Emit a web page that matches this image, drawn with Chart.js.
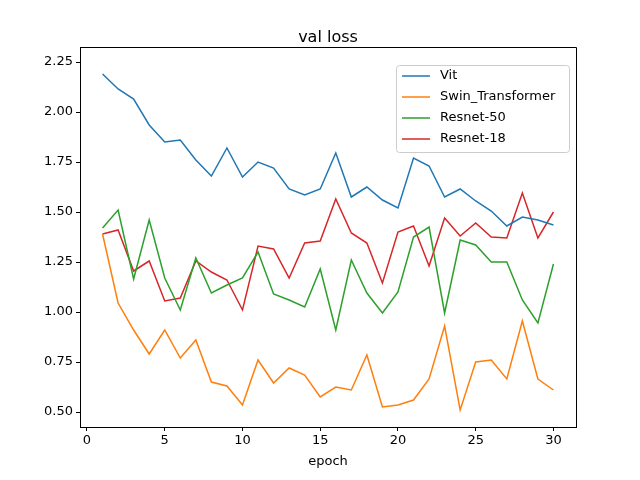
<!DOCTYPE html>
<html lang="en">
<head>
<meta charset="UTF-8">
<title>val loss</title>
<script src="https://cdn.jsdelivr.net/npm/chart.js"></script>
<style>body{margin:0;background:#fff}canvas{display:block}</style>
</head>
<body>
<canvas id="c" width="640" height="480"></canvas>
<script>
const epochs = Array.from({length: 30}, (_, i) => i + 1);
const vit = [2.19,2.115,2.065,1.935,1.85,1.86,1.76,1.68,1.82,1.675,1.75,1.72,1.615,1.585,1.615,1.795,1.575,1.625,1.56,1.52,1.77,1.73,1.575,1.615,1.555,1.505,1.43,1.475,1.46,1.435];
const swin = [1.39,1.045,0.91,0.79,0.91,0.77,0.86,0.65,0.63,0.535,0.76,0.645,0.72,0.685,0.575,0.625,0.61,0.785,0.525,0.535,0.56,0.665,0.93,0.51,0.75,0.76,0.665,0.955,0.665,0.61];
const resnet50 = [1.42,1.51,1.165,1.46,1.17,1.01,1.27,1.095,1.135,1.17,1.30,1.09,1.06,1.025,1.215,0.91,1.26,1.095,0.995,1.10,1.375,1.425,0.995,1.36,1.335,1.25,1.25,1.06,0.945,1.24];
const resnet18 = [1.39,1.41,1.205,1.255,1.055,1.07,1.255,1.2,1.16,1.01,1.33,1.315,1.17,1.345,1.355,1.565,1.395,1.345,1.145,1.40,1.43,1.23,1.47,1.38,1.445,1.375,1.37,1.595,1.37,1.50];
const xTicks = [0,5,10,15,20,25,30];
const yTicks = [0.5,0.75,1.0,1.25,1.5,1.75,2.0,2.25];
const names = ['Vit','Swin_Transformer','Resnet-50','Resnet-18'];
const colors = ['#1f77b4','#ff7f0e','#2ca02c','#d62728'];
const series = [vit, swin, resnet50, resnet18];

const font = {family: 'DejaVu Sans', size: 13};

const overlay = {
  id: 'overlay',
  afterDraw(chart) {
    const ctx = chart.ctx, a = chart.chartArea;
    ctx.save();
    // top and right spines
    ctx.strokeStyle = '#000';
    ctx.lineWidth = 1;
    ctx.beginPath();
    ctx.moveTo(a.left, a.top + 0.5); ctx.lineTo(a.right + 0.5, a.top + 0.5); ctx.lineTo(a.right + 0.5, a.bottom);
    ctx.stroke();
    ctx.fillStyle = '#000';
    ctx.font = '16px DejaVu Sans';
    ctx.textAlign = 'center';
    ctx.textBaseline = 'alphabetic';
    ctx.fillText('val loss', (a.left + a.right) / 2, a.top - 5);
    ctx.font = '13px DejaVu Sans';
    ctx.textBaseline = 'middle';
    ctx.fillText('epoch', (a.left + a.right) / 2, 462);
    // legend box
    const bx = a.right - 180, by = a.top + 18, bw = 173, bh = 87;
    ctx.fillStyle = 'rgba(255,255,255,0.8)';
    ctx.strokeStyle = '#ccc';
    ctx.beginPath();
    ctx.roundRect(bx + 0.5, by + 0.5, bw, bh, 3);
    ctx.fill(); ctx.stroke();
    ctx.textAlign = 'left';
    names.forEach((n, i) => {
      const y = by + 11 + i * 21;
      ctx.strokeStyle = colors[i];
      ctx.lineWidth = 1.5;
      ctx.beginPath(); ctx.moveTo(bx + 6, y); ctx.lineTo(bx + 34, y); ctx.stroke();
      ctx.fillStyle = '#000';
      ctx.fillText(n, bx + 44, y);
    });
    ctx.restore();
  }
};

new Chart(document.getElementById('c'), {
  type: 'line',
  data: {
    labels: epochs,
    datasets: series.map((d, i) => ({
      label: names[i],
      data: d.map((v, j) => ({x: epochs[j], y: v})),
      borderColor: colors[i],
      backgroundColor: colors[i],
      borderWidth: 1.5,
      pointRadius: 0,
      tension: 0
    }))
  },
  options: {
    responsive: false,
    animation: false,
    layout: {padding: {top: 47, right: 64, left: 0, bottom: 0}},
    plugins: {legend: {display: false}, tooltip: {enabled: false}},
    scales: {
      x: {
        type: 'linear', min: -0.45, max: 31.45,
        afterBuildTicks: s => { s.ticks = xTicks.map(v => ({value: v})); },
        afterFit: s => { s.height = 53; },
        grid: {drawOnChartArea: false, tickLength: 4, color: '#000'},
        border: {color: '#000'},
        ticks: {color: '#000', font, padding: 2, maxRotation: 0, callback: v => v}
      },
      y: {
        min: 0.425, max: 2.325,
        afterBuildTicks: s => { s.ticks = yTicks.map(v => ({value: v})); },
        afterFit: s => { s.width = 80; },
        grid: {drawOnChartArea: false, tickLength: 4, color: '#000'},
        border: {color: '#000'},
        ticks: {color: '#000', font, padding: 3, callback: v => v.toFixed(2)}
      }
    }
  },
  plugins: [overlay]
});
</script>
</body>
</html>
